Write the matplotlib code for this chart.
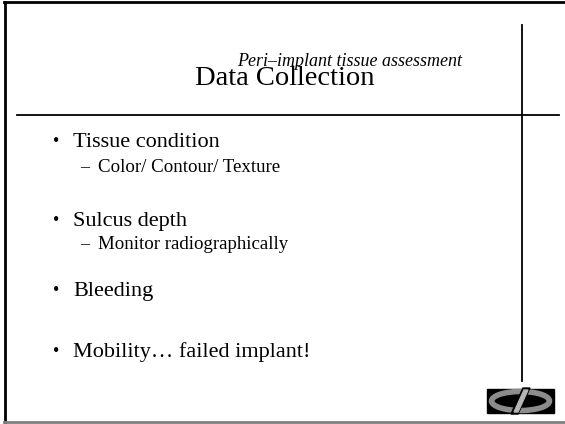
import matplotlib.pyplot as plt
from matplotlib.patches import Rectangle, Ellipse, Polygon

plt.rcParams["font.family"] = ["Liberation Serif", "DejaVu Serif"]

W, H = 565, 424

TITLE = "Data Collection"
SUBTITLE = "Peri\u2013implant tissue assessment"

# (level, text) for each bullet line
BULLETS = [
    (0, "Tissue condition"),
    (1, "Color/ Contour/ Texture"),
    (0, "Sulcus depth"),
    (1, "Monitor radiographically"),
    (0, "Bleeding"),
    (0, "Mobility\u2026 failed implant!"),
]
BULLET_BASELINE = [147, 172, 226, 249, 296, 357]

fig = plt.figure(figsize=(W / 100, H / 100), dpi=100)
ax = fig.add_axes([0, 0, 1, 1])
ax.set_xlim(0, W)
ax.set_ylim(H, 0)
ax.axis("off")

# slide frame
ax.plot([5, 5], [2, 422], color="black", lw=2)
ax.plot([4, W], [2, 2], color="black", lw=2)
ax.plot([4, W], [421.5, 421.5], color="#808080", lw=2)

# rules
ax.plot([17, 559], [114.5, 114.5], color="black", lw=1.3)
ax.plot([521.7, 521.7], [25, 381], color="black", lw=1.3)

ax.text(284.5, 85, TITLE, fontsize=20.5, ha="center", va="baseline")
ax.text(349.5, 66.5, SUBTITLE, fontsize=13, style="italic",
        ha="center", va="baseline")

for (level, text), y in zip(BULLETS, BULLET_BASELINE):
    if level == 0:
        ax.text(53, y - 1, "\u2022", fontsize=13, va="baseline")
        ax.text(73, y, text, fontsize=16, va="baseline")
    else:
        ax.text(80, y, "\u2013", fontsize=13, va="baseline")
        ax.text(98, y, text, fontsize=13.6, va="baseline")

# logo
ax.add_patch(Rectangle((487, 389), 67, 24, color="black"))
ax.add_patch(Ellipse((520.5, 401), 58, 19, fill=False, ec="#8c8c8c", lw=4))
ax.add_patch(Polygon([(511, 414), (518, 414), (530, 388), (523, 388)],
                     color="black"))
ax.add_patch(Polygon([(514, 412), (518, 412), (528, 390), (524, 390)],
                     color="#b5b5b5"))

fig.savefig("out.png", dpi=100)
